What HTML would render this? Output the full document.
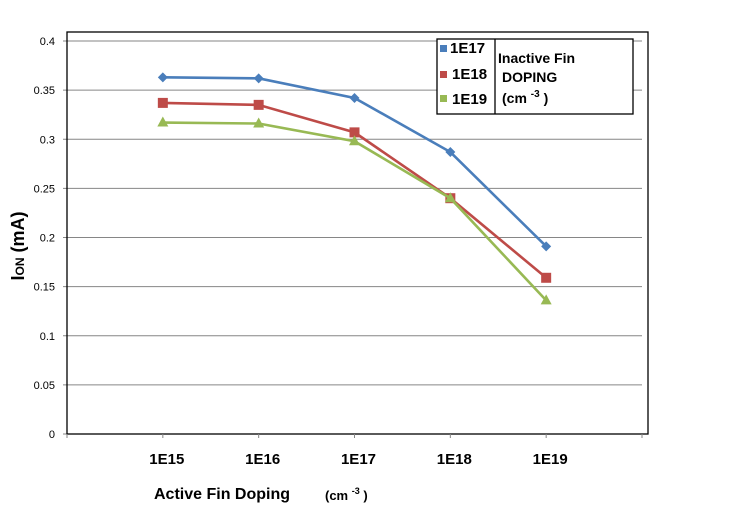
<!DOCTYPE html>
<html><head><meta charset="utf-8"><style>
body{margin:0;background:#fff;}
svg{display:block;font-family:"Liberation Sans",Arial,sans-serif;}
</style></head><body>
<svg id="c" width="740" height="512" xmlns="http://www.w3.org/2000/svg"></svg>
<script>
const categories=["1E15","1E16","1E17","1E18","1E19"];
const series1E17=[0.363,0.362,0.342,0.287,0.191];
const series1E18=[0.337,0.335,0.307,0.240,0.159];
const series1E19=[0.317,0.316,0.298,0.240,0.136];
const yTicks=[0,0.05,0.1,0.15,0.2,0.25,0.3,0.35,0.4];
const yTickLabels=["0","0.05","0.1","0.15","0.2","0.25","0.3","0.35","0.4"];

const NS="http://www.w3.org/2000/svg";
const svg=document.getElementById('c');
const X0=67,X1=642,Y0=434,Y1=41;
const slots=categories.length+1;
function xs(i){return X0+(i+1)*(X1-X0)/slots;}
function ys(v){return Y0-(v/0.4)*(Y0-Y1);}
function el(t,a,p){const e=document.createElementNS(NS,t);for(const k in a)e.setAttribute(k,a[k]);(p||svg).appendChild(e);return e;}

// gridlines & y ticks
yTicks.forEach((v,i)=>{
  const y=ys(v);
  if(v>0){const g=el('line',{x1:X0,x2:X1,y1:y,y2:y,stroke:'#868686','stroke-width':1});
  
  }
  el('line',{x1:X0-4,x2:X0,y1:y,y2:y,stroke:'#868686'});
  const t=el('text',{x:X0-12,y:y+4,'text-anchor':'end','font-size':11,fill:'#000'});
  t.textContent=yTickLabels[i];
  
  
});
// plot border
const b=el('rect',{x:X0,y:32,width:581,height:Y0-32,fill:'none',stroke:'#000','stroke-width':1.3});


// x ticks
for(let i=0;i<=slots;i++){const x=X0+i*(X1-X0)/slots;el('line',{x1:x,x2:x,y1:Y0,y2:Y0+4,stroke:'#868686'});}
categories.forEach((c,i)=>{
  const t=el('text',{x:xs(i)+4,y:464,'text-anchor':'middle','font-size':15,'font-weight':'bold'});
  t.textContent=c;
  
  
});
// series
const defs=[[series1E17,'#4a7ebb','diamond','series-1e17'],[series1E18,'#be4b48','square','series-1e18'],[series1E19,'#98b954','triangle','series-1e19']];
defs.forEach(([d,col,m,name])=>{
  const g=el('g',{});
  
  
  el('polyline',{points:d.map((v,i)=>xs(i)+','+ys(v)).join(' '),fill:'none',stroke:col,'stroke-width':2.6},g);
  d.forEach((v,i)=>{
    const x=xs(i),y=ys(v);let mk;
    if(m==='diamond')mk=el('polygon',{points:`${x},${y-5} ${x+5},${y} ${x},${y+5} ${x-5},${y}`,fill:col},g);
    else if(m==='square')mk=el('rect',{x:x-5,y:y-5,width:10,height:10,fill:col},g);
    else mk=el('polygon',{points:`${x},${y-6} ${x+5.5},${y+4} ${x-5.5},${y+4}`,fill:col},g);
    
    
  });
});
</script>
<svg style="position:absolute;left:0;top:0" width="740" height="512" xmlns="http://www.w3.org/2000/svg" font-family="Liberation Sans, Arial, sans-serif">
  <g>
    <rect x="437" y="39" width="196" height="75" fill="#fff" stroke="#000" stroke-width="1.3"/>
    <line x1="495" y1="39" x2="495" y2="114" stroke="#000" stroke-width="1.3"/>
    <rect x="440" y="45" width="7" height="7" fill="#4a7ebb"/>
    <text x="450" y="53" font-size="15" font-weight="bold">1E17</text>
    <rect x="440" y="71" width="7" height="7" fill="#be4b48"/>
    <text x="452" y="79" font-size="15" font-weight="bold">1E18</text>
    <rect x="440" y="95" width="7" height="7" fill="#98b954"/>
    <text x="452" y="104" font-size="15" font-weight="bold">1E19</text>
    <text x="498" y="63" font-size="14" font-weight="bold">Inactive Fin</text>
    <text x="502" y="82" font-size="14" font-weight="bold">DOPING</text>
    <text x="502" y="103" font-size="14" font-weight="bold">(cm <tspan font-size="10" dy="-6">-3</tspan><tspan dy="6"> )</tspan></text>
  </g>
  <text x="154" y="499" font-size="16" font-weight="bold">Active Fin Doping</text>
  <text x="325" y="500" font-size="13" font-weight="bold">(cm <tspan font-size="9" dy="-6">-3</tspan><tspan dy="6"> )</tspan></text>
  <text transform="translate(24,246) rotate(-90)" text-anchor="middle" font-size="18" font-weight="bold">I<tspan font-size="12">ON</tspan> (mA)</text>
</svg>
</body></html>
